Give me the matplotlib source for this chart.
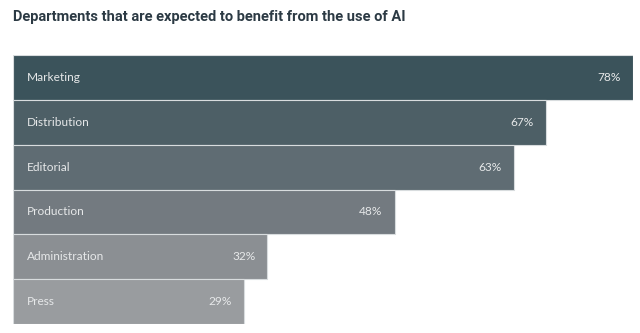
import matplotlib.pyplot as plt

departments = ["Marketing", "Distribution", "Editorial", "Production", "Administration", "Press"]
shares = [78, 67, 63, 48, 32, 29]
bar_colors = ["#3b535b", "#4d5f66", "#5f6c73", "#737a80", "#8b8f93", "#999c9f"]

W, H = 640, 333
fig = plt.figure(figsize=(W / 100, H / 100), dpi=100)
# axes: x from 13px to 633px (0..78), y from 55px to 324px
ax = fig.add_axes([13 / W, (H - 324) / H, 620 / W, 269 / H])

ypos = list(range(len(departments)))
ax.barh(ypos, shares, height=1.0, color=bar_colors, edgecolor="#d8dcde", linewidth=0.8)
ax.set_xlim(0, 78)
ax.set_ylim(len(departments) - 0.5, -0.5)
ax.axis("off")

for y, name, val in zip(ypos, departments, shares):
    ax.annotate(name, (0, y), xytext=(14, 0), textcoords="offset pixels",
                va="center", ha="left", color="#e6e8e9", fontsize=8.6, family="Lato")
    ax.annotate(f"{val}%", (val, y), xytext=(-12, 0), textcoords="offset pixels",
                va="center", ha="right", color="#e6e8e9", fontsize=8.6, family="Lato")

fig.text(13 / W, 1 - 17 / H, "Departments that are expected to benefit from the use of AI",
         ha="left", va="center", fontsize=10.5, fontweight="bold", color="#2c3a44",
         family="Roboto")

fig.savefig("out.png", dpi=100, facecolor="white")
